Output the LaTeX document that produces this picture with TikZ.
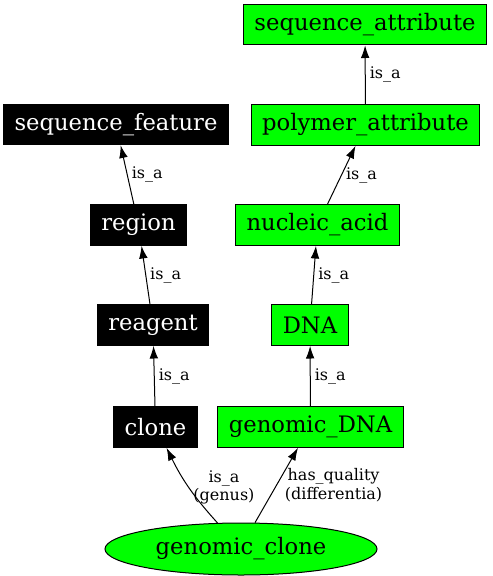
\documentclass[tikz,border=0pt]{standalone}
\usepackage{fontspec}
\setmainfont{DejaVu Serif}
\usetikzlibrary{shapes.geometric,arrows.meta}
\definecolor{termgreen}{RGB}{0,255,0}
\begin{document}
\begin{tikzpicture}[x=0.75pt,y=-0.75pt,line width=0.75pt,
	term/.style={rectangle,draw=black,minimum height=30.5pt,inner xsep=8.2pt,font=\fontsize{17}{20}\selectfont},
	blackterm/.style={term,fill=black,text=white},
	greenterm/.style={term,fill=termgreen},
	rel/.style={-{Latex[length=9.5pt,width=6.5pt]}},
	rellabel/.style={font=\fontsize{12}{14}\selectfont,align=center,inner sep=3pt}]
	\useasboundingbox (0,0) rectangle (493,576);
	% left branch (genus)
	\node[blackterm] (seqfeature) at (116,124.5) {sequence\_feature};
	\node[blackterm] (region) at (138.5,225) {region};
	\node[blackterm] (reagent) at (153,325) {reagent};
	\node[blackterm] (clone) at (155.5,427) {clone};
	% right branch (differentia)
	\node[greenterm] (seqattr) at (365,24.5) {sequence\_attribute};
	\node[greenterm] (polyattr) at (365.5,125) {polymer\_attribute};
	\node[greenterm] (nucacid) at (317.5,225) {nucleic\_acid};
	\node[greenterm] (dna) at (310,325) {DNA};
	\node[greenterm] (gdna) at (310.5,427) {genomic\_DNA};
	\node[ellipse,draw=black,fill=termgreen,minimum width=204pt,minimum height=39pt,inner sep=0pt,font=\fontsize{17}{20}\selectfont] (gclone) at (241,549) {genomic\_clone};
	% edges
	\draw[rel] (gclone.132) to[bend left=8] node[rellabel,right]{is\_a\\(genus)} (clone.-62);
	\draw[rel] (gclone.62) -- node[rellabel,right,xshift=3pt]{has\_quality\\(differentia)} (gdna.-121);
	\draw[rel] (clone) -- node[rellabel,right]{is\_a} (reagent);
	\draw[rel] (reagent) -- node[rellabel,right]{is\_a} (region);
	\draw[rel] (region) -- node[rellabel,right]{is\_a} (seqfeature);
	\draw[rel] (gdna) -- node[rellabel,right]{is\_a} (dna);
	\draw[rel] (dna) -- node[rellabel,right]{is\_a} (nucacid);
	\draw[rel] (nucacid) -- node[rellabel,right]{is\_a} (polyattr);
	\draw[rel] (polyattr) -- node[rellabel,right]{is\_a} (seqattr);
\end{tikzpicture}
\end{document}
